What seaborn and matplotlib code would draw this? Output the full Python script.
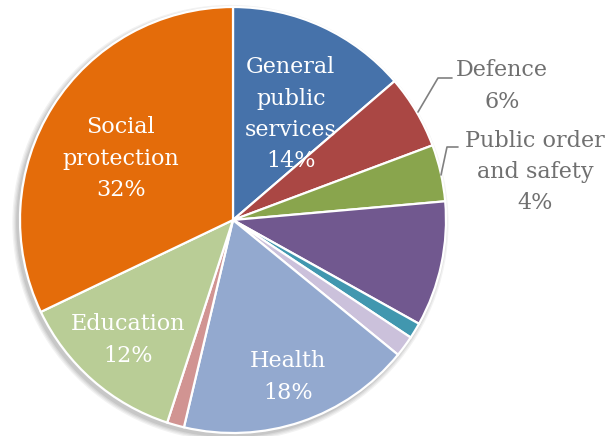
import numpy as np
import matplotlib
matplotlib.use("Agg")
import matplotlib.pyplot as plt
import seaborn as sns
from matplotlib.patches import Circle

categories = ["General public services", "Defence", "Public order and safety",
              "Economic affairs", "Environmental protection",
              "Housing and community amenities", "Health",
              "Recreation, culture and religion", "Education", "Social protection"]
values = [13.7, 5.6, 4.3, 9.5, 1.2, 1.6, 17.8, 1.3, 12.9, 32.1]
shown_pct = ["14%", "6%", "4%", "", "", "", "18%", "", "12%", "32%"]
inside_names = {0: "General\npublic\nservices", 6: "Health", 8: "Education", 9: "Social\nprotection"}
inside_r = {0: 0.565, 6: 0.78, 8: 0.75, 9: 0.60}
inside_dtheta = {0: -4.0, 6: 0.5, 8: 0.0, 9: 3.5}
colors = ["#4672aa", "#aa4744", "#89a54d", "#71588f", "#4197af",
          "#cbc1db", "#93a9cf", "#d19492", "#b9cd96", "#e46c0a"]

sns.set_theme(style="white")
plt.rcParams["font.family"] = ["DejaVu Serif"]

W, H = 609, 436
cx, cy, R = 233, 220, 213
fig = plt.figure(figsize=(W / 100, H / 100), dpi=100)
ax = fig.add_axes([0, 0, 1, 1])

# soft shadow
for i, a in enumerate([0.05, 0.05, 0.06, 0.07]):
    off = (4 - i) * 0.006
    ax.add_patch(Circle((-0.012, -0.014), 1 + off, color="black", alpha=a, lw=0, zorder=0))

wedges, _ = ax.pie(values, colors=colors, startangle=90, counterclock=False,
                   radius=1, center=(0, 0), frame=True,
                   wedgeprops=dict(edgecolor="white", linewidth=1.6))
ax.set_xlim(-cx / R, (W - cx) / R)
ax.set_ylim(-(H - cy) / R, cy / R)
ax.axis("off")

fs = 16
ls = 1.55
for i, w in enumerate(wedges):
    if i in inside_names:
        ang = np.deg2rad((w.theta1 + w.theta2) / 2 + inside_dtheta[i])
        r = inside_r[i]
        ax.text(r * np.cos(ang), r * np.sin(ang), inside_names[i] + "\n" + shown_pct[i],
                ha="center", va="center", color="white", fontsize=fs, linespacing=ls, zorder=5)

def px(x, y):
    return ((x - cx) / R, (cy - y) / R)

# outside labels with leader lines
gray = "#707070"
ax.text(*px(502, 86), "Defence\n" + shown_pct[1], ha="center", va="center",
        color=gray, fontsize=fs, linespacing=ls)
ax.plot(*zip(px(418, 112), px(438, 78), px(452, 78)), color="#808080", lw=1.2)
ax.text(*px(535, 172), "Public order\nand safety\n" + shown_pct[2], ha="center", va="center",
        color=gray, fontsize=fs, linespacing=ls)
ax.plot(*zip(px(441, 175), px(447, 147), px(458, 147)), color="#808080", lw=1.2)

fig.savefig("out.png", dpi=100)
